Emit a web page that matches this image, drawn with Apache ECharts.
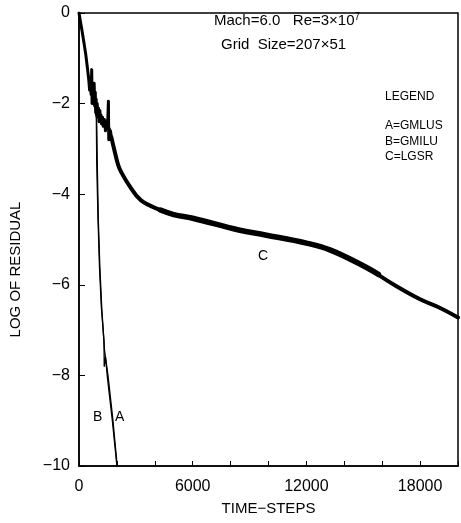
<!DOCTYPE html>
<html>
<head>
<meta charset="utf-8">
<script src="https://cdn.jsdelivr.net/npm/echarts@6/dist/echarts.min.js"></script>
<style>html,body{margin:0;padding:0;background:#fff;}#c{width:461px;height:523px;}</style>
</head>
<body>
<div id="c"></div>
<script>
// ---- data ----
const xTickLabels = [0, 6000, 12000, 18000];
const yTickLabels = [0, -2, -4, -6, -8, -10];

// C (LGSR): noisy early part
const cEarlySteps  = [0, 80, 155, 260, 362, 440, 517, 560, 600, 640, 672, 690, 720, 760, 800, 827, 860, 880, 905, 930, 960, 1000, 1030, 1060, 1100, 1130, 1160, 1190, 1240, 1280, 1340, 1397, 1440, 1480, 1520, 1552, 1570, 1600, 1620, 1660, 1707];
const cEarlyValues = [0, -0.2, -0.38, -0.65, -0.93, -1.2, -1.48, -1.7, -1.55, -1.8, -1.25, -2.0, -1.7, -1.9, -1.55, -2.05, -1.75, -2.2, -1.9, -2.25, -2.0, -2.3, -2.1, -2.4, -2.15, -2.35, -2.25, -2.45, -2.3, -2.5, -2.35, -2.6, -2.4, -2.55, -2.35, -1.95, -2.8, -2.55, -2.7, -2.6, -2.74];
// C (LGSR): smooth later part
const cSteps  = [1707, 1862, 2069, 2224, 2638, 3259, 4293, 5000, 6000, 8431, 9827, 12000, 13240, 14999, 16706, 18000, 19000, 20000];
const cValues = [-2.74, -3.02, -3.36, -3.51, -3.8, -4.13, -4.35, -4.45, -4.53, -4.79, -4.9, -5.08, -5.23, -5.58, -6.02, -6.32, -6.5, -6.72];
// thicker (scattered) band of C
const cBandSteps  = [4300, 5000, 6000, 8431, 9827, 12000, 13240, 14999, 15800];
const cBandValues = [-4.35, -4.45, -4.53, -4.79, -4.9, -5.08, -5.23, -5.58, -5.77];

const aSteps  = [0, 150, 350, 520, 700, 850, 930, 960, 1019, 1100, 1200, 1345, 1530, 1780, 2017];
const aValues = [0, -0.4, -0.9, -1.45, -1.75, -2.0, -2.3, -3.2, -4.57, -5.6, -6.5, -7.44, -8.0, -8.95, -10];

const bSteps  = [0, 140, 340, 510, 690, 840, 915, 935, 1000, 1080, 1180, 1320, 1330, 1400, 1500, 1760, 2000];
const bValues = [0, -0.35, -0.85, -1.4, -1.7, -1.95, -2.35, -3.3, -4.5, -5.6, -6.5, -7.25, -7.8, -7.6, -8.05, -9.0, -10];

const zip = (xs, ys) => xs.map((x, i) => [x, ys[i]]);

const chart = echarts.init(document.getElementById('c'), null, {renderer: 'canvas'});
const FONT = 'Liberation Sans';
const lineSeries = (data, w, smooth) => ({
  type: 'line', data, symbol: 'none', smooth: smooth || false, animation: false,
  lineStyle: {color: '#000', width: w, cap: 'round', join: 'round'}, z: 3
});

chart.setOption({
  animation: false,
  backgroundColor: '#fff',
  grid: {left: 77, right: -3, top: 13, bottom: 57, show: true, borderColor: '#000', borderWidth: 1.5},
  xAxis: {
    type: 'value', min: 0, max: 20000, interval: 2000,
    axisLine: {show: true, onZero: false, lineStyle: {color: '#000', width: 1.5}},
    axisTick: {show: true, inside: true, length: 5, lineStyle: {color: '#000', width: 1}},
    splitLine: {show: false},
    axisLabel: {
      margin: 13, color: '#000', fontFamily: FONT, fontSize: 16,
      formatter: v => xTickLabels.includes(v) ? String(v) : ''
    },
    name: 'TIME\u2212STEPS', nameLocation: 'middle', nameGap: 35,
    nameTextStyle: {color: '#000', fontFamily: FONT, fontSize: 15}
  },
  yAxis: {
    type: 'value', min: -10, max: 0, interval: 2,
    axisLine: {show: true, onZero: false, lineStyle: {color: '#000', width: 1.5}},
    axisTick: {show: true, inside: true, length: 6, lineStyle: {color: '#000', width: 1}},
    splitLine: {show: false},
    axisLabel: {
      margin: 9, color: '#000', fontFamily: FONT, fontSize: 16,
      formatter: v => yTickLabels.includes(v) ? String(v).replace('-', '\u2212') : ''
    },
    name: 'LOG OF RESIDUAL', nameLocation: 'middle', nameGap: 56, nameRotate: 90,
    nameTextStyle: {color: '#000', fontFamily: FONT, fontSize: 15, padding: [0, 0, 0, -60]}
  },
  series: [
    lineSeries(zip(cEarlySteps, cEarlyValues), 3, false),
    lineSeries(zip(cSteps, cValues), 4, 0.4),
    lineSeries(zip(cBandSteps, cBandValues), 5.5, 0.4),
    lineSeries(zip(aSteps, aValues), 1.3, false),
    lineSeries(zip(bSteps, bValues), 1.3, false)
  ],
  graphic: [
    {type: 'text', left: 214, top: 12, style: {
      text: '{n|Mach=6.0   Re=3\u00d710}{s|7}', fill: '#000',
      rich: {n: {fontFamily: FONT, fontSize: 15, fill: '#000'}, s: {fontFamily: FONT, fontSize: 10, fill: '#000', verticalAlign: 'top', padding: [0, 0, 8, 0]}}
    }},
    {type: 'text', left: 221, top: 37, style: {text: 'Grid  Size=207\u00d751', font: '15px "Liberation Sans"', fill: '#000'}},
    {type: 'text', left: 385, top: 91, style: {text: 'LEGEND', font: '12px "Liberation Sans"', fill: '#000'}},
    {type: 'text', left: 385, top: 120, style: {text: 'A=GMLUS', font: '12px "Liberation Sans"', fill: '#000'}},
    {type: 'text', left: 385, top: 136, style: {text: 'B=GMILU', font: '12px "Liberation Sans"', fill: '#000'}},
    {type: 'text', left: 385, top: 151, style: {text: 'C=LGSR', font: '12px "Liberation Sans"', fill: '#000'}},
    {type: 'text', left: 258, top: 249, style: {text: 'C', font: '14px "Liberation Sans"', fill: '#000'}},
    {type: 'text', left: 93, top: 410, style: {text: 'B', font: '14px "Liberation Sans"', fill: '#000'}},
    {type: 'text', left: 115, top: 410, style: {text: 'A', font: '14px "Liberation Sans"', fill: '#000'}}
  ]
});
</script>
</body>
</html>
